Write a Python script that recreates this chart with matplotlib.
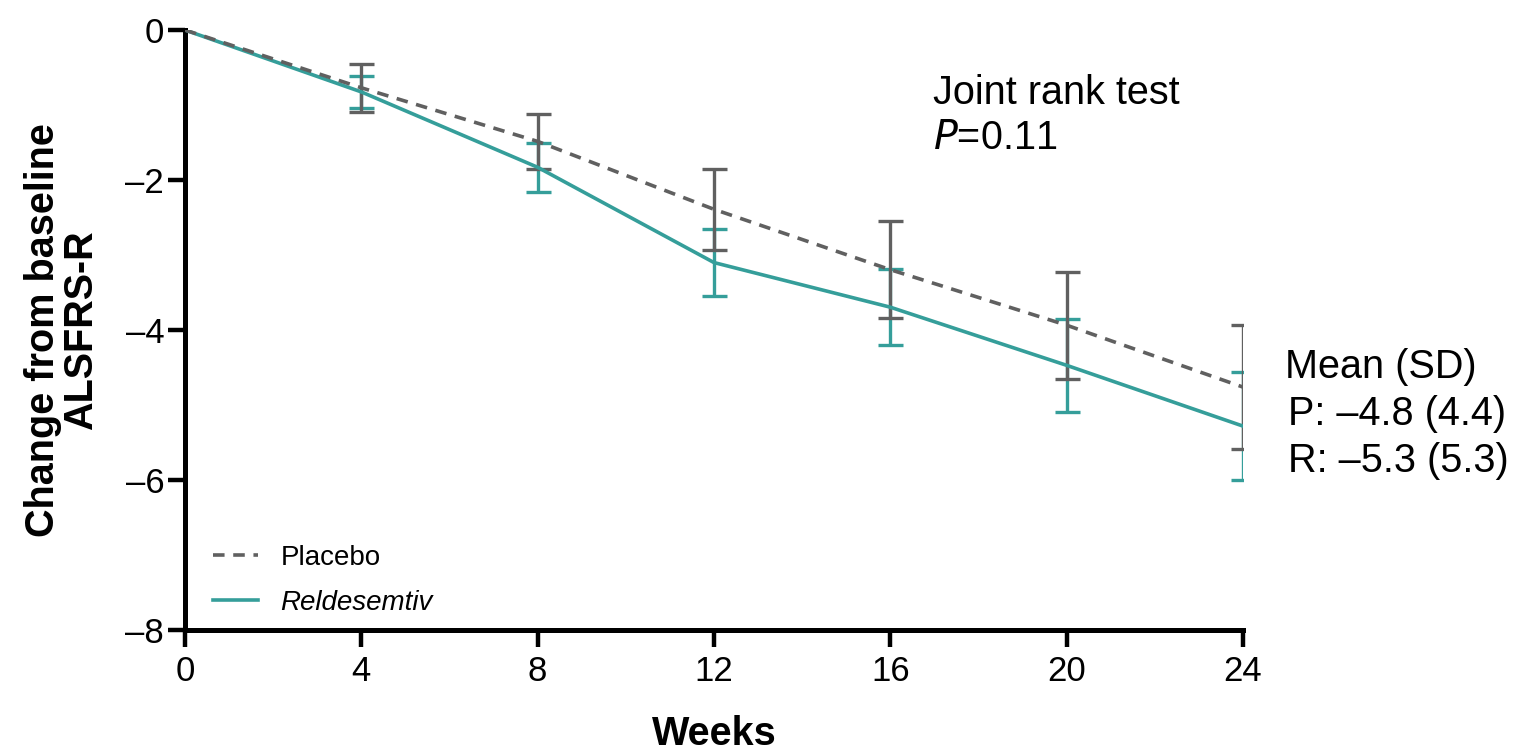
import numpy as np
import matplotlib.pyplot as plt

plt.rcParams['font.family'] = ['Liberation Sans', 'DejaVu Sans']

# change from baseline in ALSFRS-R, mean with error bar half-width
weeks = [0, 4, 8, 12, 16, 20, 24]
placebo_mean = [0, -0.77, -1.485, -2.39, -3.195, -3.935, -4.76]
placebo_err = [0, 0.32, 0.365, 0.54, 0.645, 0.715, 0.83]
reld_mean = [0, -0.825, -1.83, -3.1, -3.695, -4.47, -5.28]
reld_err = [0, 0.215, 0.33, 0.45, 0.505, 0.62, 0.72]

gray = '#606060'
teal = '#359e9a'

fig = plt.figure(figsize=(15.13, 7.51), dpi=100)
ax = fig.add_axes([0.1223, 0.161, 0.6992, 0.799])

ax.errorbar(weeks[1:], reld_mean[1:], yerr=reld_err[1:], fmt='none',
            ecolor=teal, elinewidth=2.4, capsize=9, capthick=2.4, zorder=2)
ax.errorbar(weeks[1:], placebo_mean[1:], yerr=placebo_err[1:], fmt='none',
            ecolor=gray, elinewidth=2.4, capsize=9, capthick=2.4, zorder=3)
ax.plot(weeks, reld_mean, color=teal, lw=2.6, label='Reldesemtiv', zorder=4)
ax.plot(weeks, placebo_mean, color=gray, lw=2.6, ls=(0, (3.2, 2.4)),
        label='Placebo', zorder=5)

ax.set_xlim(0, 24)
ax.set_ylim(-8, 0)
ax.set_xticks(range(0, 25, 4))
ax.set_yticks([0, -2, -4, -6, -8])
ax.set_yticklabels(['0', '–2', '–4', '–6', '–8'])
ax.tick_params(labelsize=25, width=3.2, length=12, color='black')
ax.tick_params(axis='y', pad=3)
ax.tick_params(axis='x', pad=6)

for side in ['top', 'right']:
    ax.spines[side].set_visible(False)
for side in ['left', 'bottom']:
    ax.spines[side].set_linewidth(3.6)

ax.set_xlabel('Weeks', fontsize=28.5, fontweight='bold')
ax.xaxis.set_label_coords(0.5, -0.141)
ax.set_ylabel('Change from baseline\nALSFRS-R', fontsize=28.5,
              fontweight='bold', linespacing=1.03)
ax.yaxis.set_label_coords(-0.080, 0.5)

ax.text(16.97, -0.987, 'Joint rank test', fontsize=28.5, ha='left', va='baseline')
ax.text(16.97, -1.587, '$\\it{P}$=0.11', fontsize=28.5, ha='left', va='baseline')

ax.text(24.95, -4.64, 'Mean (SD)', fontsize=28.5, ha='left', va='baseline', clip_on=False)
ax.text(25.02, -5.27, 'P: –4.8 (4.4)', fontsize=28.5, ha='left', va='baseline', clip_on=False)
ax.text(25.02, -5.89, 'R: –5.3 (5.3)', fontsize=28.5, ha='left', va='baseline', clip_on=False)

handles, labels = ax.get_legend_handles_labels()
leg = ax.legend(handles[::-1], labels[::-1], loc='lower left',
                bbox_to_anchor=(0.016, 0.005), frameon=False, fontsize=20,
                handlelength=1.62, handletextpad=0.8, labelspacing=0.7,
                borderaxespad=0)
leg.get_texts()[1].set_fontstyle('italic')

fig.savefig('out.png', dpi=100)
